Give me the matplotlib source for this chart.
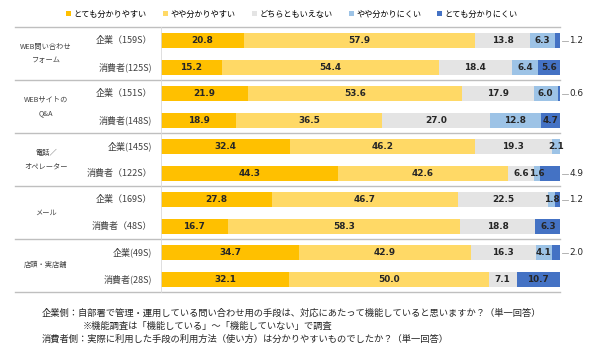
import matplotlib
matplotlib.use("Agg")
import matplotlib.pyplot as plt
from matplotlib.patches import Patch
import matplotlib.transforms as mtransforms

plt.rcParams['font.family'] = ['Noto Sans CJK JP', 'DejaVu Sans']

categories = ["とても分かりやすい", "やや分かりやすい", "どちらともいえない", "やや分かりにくい", "とても分かりにくい"]
colors = ["#FFC000", "#FFD966", "#E4E4E4", "#9DC3E6", "#4472C4"]

groups = ["WEB問い合わせ\nフォーム", "WEBサイトの\nQ&A", "電話／\nオペレーター", "メール", "店頭・実店舗"]
row_labels = [
    ["企業（159S）", "消費者(125S)"],
    ["企業（151S）", "消費者(148S)"],
    ["企業(145S)", "消費者（122S）"],
    ["企業（169S）", "消費者（48S）"],
    ["企業(49S)", "消費者(28S)"],
]
values = [
    [[20.8, 57.9, 13.8, 6.3, 1.2], [15.2, 54.4, 18.4, 6.4, 5.6]],
    [[21.9, 53.6, 17.9, 6.0, 0.6], [18.9, 36.5, 27.0, 12.8, 4.7]],
    [[32.4, 46.2, 19.3, 2.1, 0.0], [44.3, 42.6, 6.6, 1.6, 4.9]],
    [[27.8, 46.7, 22.5, 1.8, 1.2], [16.7, 58.3, 18.8, 0.0, 6.3]],
    [[34.7, 42.9, 16.3, 4.1, 2.0], [32.1, 50.0, 7.1, 0.0, 10.7]],
]
# last segment labelled outside the bar with a leader line
last_outside = [
    [True, False],
    [True, False],
    [False, True],
    [True, False],
    [True, False],
]

notes = [
    "企業側：自部署で管理・運用している問い合わせ用の手段は、対応にあたって機能していると思いますか？（単一回答）",
    "※機能調査は「機能している」～「機能していない」で調査",
    "消費者側：実際に利用した手段の利用方法（使い方）は分かりやすいものでしたか？（単一回答）",
]

W, H = 600, 353
fig = plt.figure(figsize=(6.0, 3.53), dpi=100)
ax_l, ax_r, ax_t, ax_b = 161, 560, 27, 292
ax = fig.add_axes([ax_l / W, 1 - ax_b / H, (ax_r - ax_l) / W, (ax_b - ax_t) / H])
ax.set_xlim(0, 100)
ax.set_ylim(10, 0)
ax.axis('off')

offsets = [0.52, 1.53]
bar_h = 0.57
px = 100 / (ax_r - ax_l)

trans_axy = mtransforms.blended_transform_factory(ax.transAxes, ax.transData)

for gi, g in enumerate(groups):
    for ri in range(2):
        y = 2 * gi + offsets[ri]
        vals = values[gi][ri]
        left = 0
        for ci, v in enumerate(vals):
            if v > 0:
                ax.barh(y, v, left=left, height=bar_h, color=colors[ci],
                        edgecolor='none')
                outside = (ci == 4 and last_outside[gi][ri])
                if outside:
                    ax.plot([100 + 0.6, 100 + 1.9], [y, y], color='#A6A6A6',
                            lw=0.6, clip_on=False)
                    ax.text(100 + 2.3, y, f"{v:.1f}", ha='left', va='center',
                            fontsize=6.4, family='DejaVu Sans', color='#262626')
                else:
                    ax.text(left + v / 2, y, f"{v:.1f}", ha='center', va='center',
                            fontsize=6.4, fontweight='bold', family='DejaVu Sans',
                            color='#262626')
            left += v
        ax.text(-9 * px / 100, y, row_labels[gi][ri], transform=trans_axy,
                ha='right', va='center', fontsize=6.5, color='#404040')
    ax.text((46 - ax_l) / (ax_r - ax_l), 2 * gi + 1, g, transform=trans_axy,
            ha='center', va='center', fontsize=5.2, color='#404040',
            linespacing=1.9)

# separators
x0 = (15 - ax_l) / (ax_r - ax_l)
for k in range(6):
    ax.plot([x0, 1.0], [2 * k, 2 * k], transform=trans_axy, color='#BFBFBF',
            lw=1.0, clip_on=False)
ax.plot([0, 0], [0, 10], color='#D9D9D9', lw=0.6, clip_on=False)

handles = [Patch(facecolor=c, edgecolor='none') for c in colors]
fig.legend(handles, categories, loc='center', bbox_to_anchor=(292 / W, 1 - 14 / H),
           ncol=5, frameon=False, fontsize=5.9, handlelength=0.6, handleheight=0.6,
           handletextpad=0.3, columnspacing=2.0, borderaxespad=0)

ys = [313, 326, 339]
xs = [42, 83, 42]
for t, xx, yy in zip(notes, xs, ys):
    fig.text(xx / W, 1 - yy / H, t, ha='left', va='center', fontsize=6.7,
             color='#262626')

fig.savefig("out.png", dpi=100)
